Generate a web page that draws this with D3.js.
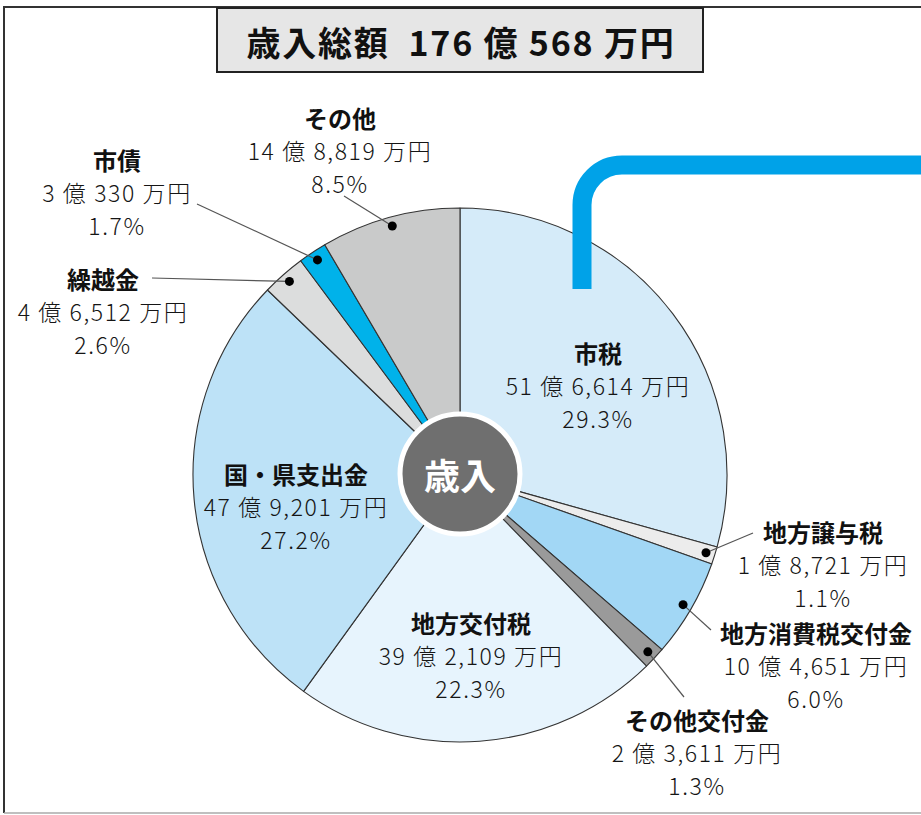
<!DOCTYPE html>
<html>
<head>
<meta charset="utf-8">
<script src="https://cdn.jsdelivr.net/npm/d3@7"></script>
<style>
  body { margin: 0; background: #fff; }
  svg { display: block; }
  text { font-family: "Noto Sans CJK JP", "Noto Sans", sans-serif; }
</style>
</head>
<body>
<svg id="pie-chart"></svg>
<script>
var width = 921
var height = 815

// data (amounts in 万円)
var categories = ["市税", "地方譲与税", "地方消費税交付金", "その他交付金", "地方交付税", "国・県支出金", "繰越金", "市債", "その他"]
var amounts = [516614, 18721, 104651, 23611, 392109, 479201, 46512, 30330, 148819]
var percents = ["29.3", "1.1", "6.0", "1.3", "22.3", "27.2", "2.6", "1.7", "8.5"]
var colors = ["#d5ebf9", "#ececec", "#a2d7f5", "#9a9a9a", "#e7f4fd", "#bde2f7", "#dcdddd", "#00b2ea", "#c9caca"]

// label layout: text centre, leader end (null = label inside the slice, no dot)
var labelPos = {
    "市税":           { x: 598, y: 385, lead: null },
    "地方譲与税":     { x: 823, y: 564, lead: [753, 533] },
    "地方消費税交付金": { x: 816, y: 665, lead: [711, 630] },
    "その他交付金":   { x: 697, y: 752, lead: [684, 697] },
    "地方交付税":     { x: 471, y: 655, lead: null },
    "国・県支出金":   { x: 296, y: 506, lead: null },
    "繰越金":         { x: 103, y: 311, lead: [152, 278] },
    "市債":           { x: 117, y: 192, lead: [197, 204] },
    "その他":         { x: 340, y: 150, lead: [344, 196] }
}

var data = categories.map(function(c, i) {
    return { name: c, value: amounts[i], pct: percents[i], color: colors[i] }
})

var total = d3.sum(amounts)

function yen(v) {
    var oku = Math.floor(v / 10000)
    var man = v % 10000
    return oku + " 億 " + d3.format(",")(man) + " 万円"
}

var svg = d3.select("#pie-chart")
    .attr("width", width)
    .attr("height", height)

// frame
svg.append("line").attr("x1", 4).attr("y1", 7).attr("x2", width).attr("y2", 7)
    .attr("stroke", "#333").attr("stroke-width", 2)
svg.append("line").attr("x1", 4).attr("y1", 6).attr("x2", 4).attr("y2", 813)
    .attr("stroke", "#333").attr("stroke-width", 2)
svg.append("line").attr("x1", 4).attr("y1", 813).attr("x2", width).attr("y2", 813)
    .attr("stroke", "#aaa").attr("stroke-width", 1.5)

// title box
svg.append("rect")
    .attr("x", 217).attr("y", 8)
    .attr("width", 486).attr("height", 64)
    .attr("fill", "#e6e6e6")
    .attr("stroke", "#222")
    .attr("stroke-width", 2)

svg.append("text")
    .attr("x", 461).attr("y", 41)
    .attr("text-anchor", "middle")
    .attr("dominant-baseline", "central")
    .style("font-size", "34px")
    .style("font-weight", "bold")
    .style("letter-spacing", "1.8px")
    .attr("fill", "#111")
    .text("歳入総額\u2002" + yen(total))

var cx = 460, cy = 475, radius = 267

var pie = d3.pie().sort(null).value(d => d.value)
var arcs = pie(data)

var arc = d3.arc().innerRadius(0).outerRadius(radius)
var dotArc = d3.arc().innerRadius(258).outerRadius(258)

var g = svg.append("g").attr("transform", "translate(" + cx + "," + cy + ")")

g.selectAll("path.slice")
    .data(arcs)
    .enter()
    .append("path")
    .attr("class", "slice")
    .attr("d", arc)
    .attr("fill", d => d.data.color)
    .attr("stroke", "#333")
    .attr("stroke-width", 1.1)
    .attr("stroke-linejoin", "round")

// blue connector line, drawn over the pie
svg.append("path")
    .attr("d", "M582,289 V205 A40,40 0 0 1 622,165 H" + width)
    .attr("fill", "none")
    .attr("stroke", "#00a2e8")
    .attr("stroke-width", 19)

// leader lines and dots
var outside = arcs.filter(d => labelPos[d.data.name].lead)

g.selectAll("line.leader")
    .data(outside)
    .enter()
    .append("line")
    .attr("class", "leader")
    .attr("x1", d => dotArc.centroid(d)[0])
    .attr("y1", d => dotArc.centroid(d)[1])
    .attr("x2", d => labelPos[d.data.name].lead[0] - cx)
    .attr("y2", d => labelPos[d.data.name].lead[1] - cy)
    .attr("stroke", "#555")
    .attr("stroke-width", 1.2)

g.selectAll("circle.dot")
    .data(outside)
    .enter()
    .append("circle")
    .attr("class", "dot")
    .attr("cx", d => dotArc.centroid(d)[0])
    .attr("cy", d => dotArc.centroid(d)[1])
    .attr("r", 4.5)
    .attr("fill", "#000")

// centre badge
svg.append("circle")
    .attr("cx", cx).attr("cy", 474)
    .attr("r", 60)
    .attr("fill", "#6f6f6f")
    .attr("stroke", "#fff")
    .attr("stroke-width", 5)

svg.append("text")
    .attr("x", cx).attr("y", 474)
    .attr("text-anchor", "middle")
    .attr("dominant-baseline", "central")
    .style("font-size", "36px")
    .style("font-weight", "bold")
    .attr("fill", "#fff")
    .text("歳入")

// labels
var labels = svg.append("g")
    .selectAll("g")
    .data(data)
    .enter()
    .append("g")
    .attr("transform", d => "translate(" + labelPos[d.name].x + "," + labelPos[d.name].y + ")")

labels.append("text")
    .attr("y", -33)
    .attr("text-anchor", "middle")
    .attr("dominant-baseline", "central")
    .style("font-size", "24px")
    .style("font-weight", "bold")
    .attr("fill", "#111")
    .text(d => d.name)

labels.append("text")
    .attr("y", 0)
    .attr("text-anchor", "middle")
    .attr("dominant-baseline", "central")
    .style("font-size", "23px")
    .style("font-weight", "300")
    .style("letter-spacing", "1.6px")
    .attr("fill", "#151515")
    .text(d => yen(d.value))

labels.append("text")
    .attr("y", 33)
    .attr("text-anchor", "middle")
    .attr("dominant-baseline", "central")
    .style("font-size", "23px")
    .style("font-weight", "300")
    .style("letter-spacing", "1.6px")
    .attr("fill", "#151515")
    .text(d => d.pct + "%")
</script>
</body>
</html>
